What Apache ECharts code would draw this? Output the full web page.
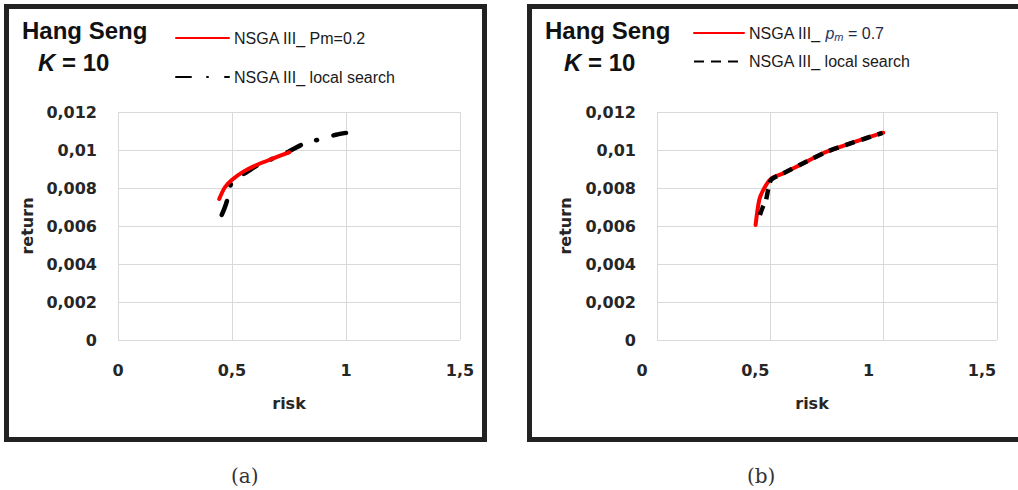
<!DOCTYPE html>
<html>
<head>
<meta charset="utf-8">
<title>Hang Seng K = 10</title>
<script src="https://cdn.jsdelivr.net/npm/echarts@6.0.0/dist/echarts.min.js"></script>
<style>
  html, body { margin: 0; padding: 0; background: #fff; }
  #chart { width: 1018px; height: 490px; }
</style>
</head>
<body>
<div id="chart"></div>
<script>
// axis ticks
const xTicks = [0, 0.5, 1, 1.5];
const yTicks = [0, 0.002, 0.004, 0.006, 0.008, 0.01, 0.012];

// panel (a): NSGA III Pm=0.2 vs local search
const riskA_pm = [0.444, 0.469, 0.499, 0.55, 0.608, 0.681, 0.751];
const retA_pm = [0.00742, 0.00804, 0.00842, 0.00886, 0.00921, 0.00956, 0.00988];
const riskA_ls = [0.455, 0.466, 0.477, 0.49, 0.505, 0.56, 0.62, 0.69, 0.747, 0.81, 0.883, 0.956, 1.0];
const retA_ls = [0.00658, 0.0069, 0.00728, 0.008, 0.0084, 0.0088, 0.00925, 0.0096, 0.00991, 0.0103, 0.01056, 0.0108, 0.0109];

// panel (b): NSGA III pm=0.7 vs local search
const riskB_pm = [0.435, 0.451, 0.469, 0.501, 0.557, 0.66, 0.749, 0.866, 0.998];
const retB_pm = [0.00605, 0.00737, 0.0079, 0.00846, 0.00877, 0.00939, 0.00991, 0.0104, 0.01091];
const riskB_ls = [0.454, 0.467, 0.48, 0.492, 0.505, 0.557, 0.66, 0.749, 0.866, 0.995];
const retB_ls = [0.00658, 0.007, 0.00733, 0.008, 0.00845, 0.00877, 0.00939, 0.00991, 0.0104, 0.0109];

// series names (panel tag after '#' is hidden in the legends)
const nameA_pm = 'NSGA III_ Pm=0.2#a';
const nameA_ls = 'NSGA III_ local search#a';
const nameB_pm = 'NSGA III_ pm = 0.7#b';
const nameB_ls = 'NSGA III_ local search#b';

const zip = (xs, ys) => xs.map((x, i) => [x, ys[i]]);
const comma = (v) => String(+v.toFixed(4)).replace('.', ',');
const plain = (n) => '{n|' + n.split('#')[0] + '}';

const gridColor = '#d9d9d9';
const tickFont = { fontFamily: 'DejaVu Sans', fontWeight: 'bold', fontSize: 16, color: '#262626' };

function xAxisFor(idx, shift) {
  return {
    type: 'value', gridIndex: idx,
    min: xTicks[0], max: xTicks[xTicks.length - 1], interval: xTicks[1] - xTicks[0],
    axisLine: { show: false }, axisTick: { show: false },
    splitLine: { show: true, lineStyle: { color: gridColor, width: 1 } },
    axisLabel: Object.assign({ margin: 22, formatter: comma, padding: [0, shift * 2, 0, 0] }, tickFont),
    name: 'risk', nameLocation: 'middle', nameGap: 55,
    nameTextStyle: Object.assign({ padding: [0, shift * 2, 0, 0] }, tickFont)
  };
}

function yAxisFor(idx, gap) {
  return {
    type: 'value', gridIndex: idx,
    min: yTicks[0], max: yTicks[yTicks.length - 1], interval: yTicks[1] - yTicks[0],
    axisLine: { show: false }, axisTick: { show: false },
    splitLine: { show: true, lineStyle: { color: gridColor, width: 1 } },
    axisLabel: Object.assign({ margin: 21, formatter: comma }, tickFont),
    name: 'return', nameLocation: 'middle', nameGap: gap,
    nameTextStyle: tickFont
  };
}

const legendText = {
  fontFamily: 'Liberation Sans', fontSize: 16, color: '#1a1a1a',
  rich: {
    n: { fontFamily: 'Liberation Sans', fontSize: 16, color: '#1a1a1a' },
    p: { fontFamily: 'Liberation Sans', fontSize: 16, fontStyle: 'italic', color: '#1f3864' },
    s: { fontFamily: 'Liberation Sans', fontSize: 11, fontStyle: 'italic', color: '#1f3864', padding: [8, 0, 0, 0] },
    v: { fontFamily: 'Liberation Sans', fontSize: 16, color: '#1f2a44' }
  }
};

const titleRich = {
  k: { fontFamily: 'Liberation Sans', fontWeight: 'bold', fontStyle: 'italic', fontSize: 24, fill: '#111' },
  n: { fontFamily: 'Liberation Sans', fontWeight: 'bold', fontSize: 24, fill: '#111' }
};

const chart = echarts.init(document.getElementById('chart'), null, { renderer: 'svg' });

chart.setOption({
  animation: false,
  backgroundColor: '#fff',
  grid: [
    { left: 118, top: 112, width: 342, height: 228 },
    { left: 657, top: 112, width: 340, height: 228 }
  ],
  xAxis: [xAxisFor(0, 0), xAxisFor(1, 15)],
  yAxis: [yAxisFor(0, 83), yAxisFor(1, 84)],
  legend: [
    {
      data: [nameA_pm, nameA_ls], orient: 'vertical', left: 175, top: 30, padding: 0,
      itemWidth: 53, itemHeight: 14, itemGap: 23, textStyle: legendText,
      itemStyle: { opacity: 0 }, formatter: plain
    },
    {
      data: [nameB_pm, nameB_ls], orient: 'vertical', left: 693, top: 25, padding: 0,
      itemWidth: 50, itemHeight: 14, itemGap: 11, textStyle: legendText,
      itemStyle: { opacity: 0 },
      formatter: (n) => n === nameB_pm ? '{n|NSGA III_ }{p|p}{s|m}{v| = 0.7}' : plain(n)
    }
  ],
  graphic: [
    // panel frames
    { type: 'rect', shape: { x: 6.5, y: 6.5, width: 478, height: 433 }, style: { fill: 'none', stroke: '#222', lineWidth: 5 }, z: 100 },
    { type: 'rect', shape: { x: 529.5, y: 6.5, width: 520, height: 433 }, style: { fill: 'none', stroke: '#222', lineWidth: 5 }, z: 100 },
    // titles
    { type: 'text', left: 22, top: 18, style: { text: 'Hang Seng', fontFamily: 'Liberation Sans', fontWeight: 'bold', fontSize: 24, fill: '#111' } },
    { type: 'text', left: 38, top: 50, style: { text: '{k|K}{n| = 10}', rich: titleRich } },
    { type: 'text', left: 545, top: 18, style: { text: 'Hang Seng', fontFamily: 'Liberation Sans', fontWeight: 'bold', fontSize: 24, fill: '#111' } },
    { type: 'text', left: 564, top: 50, style: { text: '{k|K}{n| = 10}', rich: titleRich } },
    // captions
    { type: 'text', left: 231, top: 466, style: { text: '(a)', fontFamily: 'DejaVu Serif', fontSize: 20, fill: '#333' } },
    { type: 'text', left: 747, top: 466, style: { text: '(b)', fontFamily: 'DejaVu Serif', fontSize: 20, fill: '#333' } }
  ],
  series: [
    {
      name: nameA_ls, type: 'line', xAxisIndex: 0, yAxisIndex: 0,
      data: zip(riskA_ls, retA_ls), symbol: 'none', smooth: 0.3, z: 2,
      itemStyle: { color: '#000' },
      lineStyle: { color: '#000', width: 4.5, type: [15, 16, 1, 17], cap: 'round' }
    },
    {
      name: nameA_pm, type: 'line', xAxisIndex: 0, yAxisIndex: 0,
      data: zip(riskA_pm, retA_pm), symbol: 'none', smooth: 0.3, z: 3,
      itemStyle: { color: '#ff0000' },
      lineStyle: { color: '#ff0000', width: 4, cap: 'round' }
    },
    {
      name: nameB_pm, type: 'line', xAxisIndex: 1, yAxisIndex: 1,
      data: zip(riskB_pm, retB_pm), symbol: 'none', smooth: 0.3, z: 2,
      itemStyle: { color: '#ff0000' },
      lineStyle: { color: '#ff0000', width: 4, cap: 'round' }
    },
    {
      name: nameB_ls, type: 'line', xAxisIndex: 1, yAxisIndex: 1,
      data: zip(riskB_ls, retB_ls), symbol: 'none', smooth: 0.3, z: 3,
      itemStyle: { color: '#000' },
      lineStyle: { color: '#000', width: 4.5, type: [10, 7], cap: 'butt' }
    }
  ]
});
</script>
</body>
</html>
